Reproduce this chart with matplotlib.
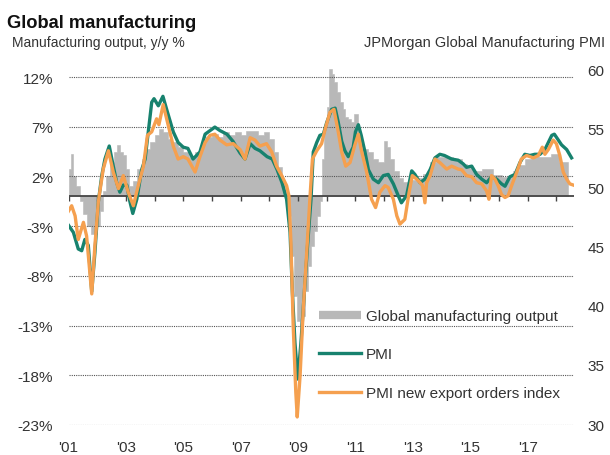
import numpy as np
import matplotlib.pyplot as plt
from matplotlib.lines import Line2D

plt.rcParams['font.family'] = ['Liberation Sans', 'DejaVu Sans']

# global manufacturing output, y/y % (stepped bars, edges in decimal years)
out_edges = [2001.0, 2001.08, 2001.17, 2001.25, 2001.4, 2001.5, 2001.65, 2001.8, 2002.0, 2002.1,
             2002.2, 2002.3, 2002.45, 2002.6, 2002.7, 2002.8, 2002.9, 2003.0, 2003.1, 2003.25,
             2003.4, 2003.55, 2003.7, 2003.85, 2004.0, 2004.15, 2004.3, 2004.45, 2004.6, 2004.8,
             2005.0, 2005.2, 2005.4, 2005.6, 2005.8, 2006.0, 2006.2, 2006.4, 2006.6, 2006.8,
             2007.0, 2007.2, 2007.4, 2007.6, 2007.8, 2008.0, 2008.15, 2008.3, 2008.45, 2008.55,
             2008.65, 2008.75, 2008.85, 2008.95, 2009.05, 2009.15, 2009.25, 2009.35, 2009.45, 2009.55,
             2009.65, 2009.75, 2009.83, 2009.92, 2010.0, 2010.08, 2010.17, 2010.25, 2010.35, 2010.45,
             2010.55, 2010.65, 2010.75, 2010.85, 2010.95, 2011.1, 2011.2, 2011.3, 2011.45, 2011.6,
             2011.8, 2012.0, 2012.1, 2012.2, 2012.35, 2012.5, 2012.65, 2012.85, 2013.1, 2013.35,
             2013.6, 2013.8, 2014.1, 2014.4, 2014.7, 2014.9, 2015.1, 2015.4, 2015.8, 2016.1,
             2016.5, 2016.7, 2016.9, 2017.1, 2017.4, 2017.8, 2018.1, 2018.4]
out_vals = [2.8, 4.3, 2.0, 1.0, -0.5, -1.8, -3.0, -3.8, -3.0,
            -1.5, 0.5, 2.0, 3.5, 4.5, 5.2, 4.5, 4.2, 2.8, 1.0,
            1.5, 2.8, 3.8, 4.8, 5.5, 6.2, 6.8, 6.5, 5.8, 5.5,
            5.0, 4.5, 4.0, 4.5, 5.5, 6.0, 6.3, 6.0, 6.5, 6.2,
            6.5, 6.2, 6.6, 6.6, 6.2, 6.5, 5.8, 4.5, 3.0, 1.5,
            0.5, -2.0, -6.0, -10.0, -12.5, -13.0, -12.0, -9.5, -7.0, -5.0,
            -3.5, -2.0, -0.5, 3.8, 7.0, 9.0, 12.8, 12.3, 11.5, 10.5,
            9.5, 8.8, 8.0, 7.8, 7.5, 8.3, 6.5, 5.2, 4.8, 4.5,
            3.8, 3.5, 5.6, 5.0, 3.8, 2.5, 1.8, 1.4, 1.6, 1.8,
            2.2, 3.5, 4.0, 4.0, 3.8, 3.3, 2.9, 2.5, 2.8, 2.1,
            1.9, 2.5, 3.2, 3.8, 4.1, 4.0, 4.3, 3.5]

# JPMorgan global manufacturing PMI
pmi_t = [2001.0, 2001.17, 2001.34, 2001.46, 2001.57, 2001.69, 2001.81, 2001.92, 2002.04, 2002.16,
         2002.27, 2002.42, 2002.56, 2002.68, 2002.79, 2002.91, 2003.03, 2003.14, 2003.24, 2003.38,
         2003.55, 2003.67, 2003.78, 2003.9, 2003.98, 2004.13, 2004.29, 2004.42, 2004.65, 2004.82,
         2005.0, 2005.16, 2005.34, 2005.58, 2005.76, 2005.93, 2006.1, 2006.28, 2006.52, 2006.73,
         2006.98, 2007.15, 2007.33, 2007.5, 2007.67, 2007.92, 2008.1, 2008.27, 2008.44, 2008.6,
         2008.72, 2008.8, 2008.89, 2008.99, 2009.1, 2009.22, 2009.33, 2009.45, 2009.53, 2009.65,
         2009.76, 2009.88, 2010.0, 2010.17, 2010.29, 2010.4, 2010.52, 2010.63, 2010.75, 2010.92,
         2011.0, 2011.1, 2011.2, 2011.33, 2011.45, 2011.62, 2011.8, 2011.97, 2012.14, 2012.32,
         2012.49, 2012.6, 2012.78, 2012.96, 2013.07, 2013.25, 2013.42, 2013.6, 2013.77, 2013.94,
         2014.1, 2014.35, 2014.58, 2014.75, 2014.87, 2015.05, 2015.22, 2015.4, 2015.57, 2015.74,
         2015.92, 2016.09, 2016.21, 2016.38, 2016.56, 2016.73, 2016.9, 2017.08, 2017.25, 2017.43,
         2017.6, 2017.72, 2017.84, 2017.93, 2018.07, 2018.18, 2018.36, 2018.53]
pmi_v = [46.8, 46.2, 44.8, 44.65, 45.6, 45.1, 41.2, 44.5, 48.8, 51.0,
         52.4, 53.5, 51.8, 50.4, 49.6, 50.2, 50.2, 48.8, 47.8, 49.0,
         51.5, 52.4, 54.7, 57.2, 57.5, 56.9, 57.7, 56.6, 54.7, 53.8,
         53.4, 53.3, 52.4, 53.0, 54.5, 54.8, 55.1, 54.8, 54.5, 53.9,
         52.9, 52.4, 53.7, 53.3, 53.1, 52.6, 52.4, 51.5, 50.4, 49.0,
         46.2, 41.2, 36.9, 33.8, 36.9, 41.2, 45.1, 49.0, 53.0, 53.8,
         54.4, 54.5, 55.5, 56.6, 56.7, 55.5, 53.9, 53.1, 52.6, 53.4,
         54.7, 55.3, 54.4, 53.0, 51.5, 50.7, 50.4, 51.0, 51.1, 50.3,
         49.3, 48.7, 49.3, 51.4, 51.1, 50.4, 50.7, 51.5, 52.5, 52.8,
         52.7, 52.4, 52.3, 52.0, 51.7, 51.8, 51.1, 50.7, 50.4, 50.9,
         50.7, 50.3, 50.1, 50.9, 51.1, 52.1, 52.8, 52.7, 52.8, 52.8,
         53.2, 53.8, 54.4, 54.5, 54.0, 53.6, 53.2, 52.5]

# PMI new export orders index
exp_t = [2001.0, 2001.11, 2001.23, 2001.34, 2001.52, 2001.63, 2001.81, 2001.92, 2002.04, 2002.21,
         2002.39, 2002.56, 2002.74, 2002.91, 2003.08, 2003.26, 2003.43, 2003.61, 2003.75, 2003.9,
         2004.07, 2004.15, 2004.3, 2004.45, 2004.65, 2004.82, 2005.0, 2005.16, 2005.41, 2005.58,
         2005.76, 2005.93, 2006.1, 2006.28, 2006.51, 2006.74, 2006.98, 2007.15, 2007.33, 2007.5,
         2007.67, 2007.9, 2008.08, 2008.25, 2008.43, 2008.6, 2008.68, 2008.75, 2008.83, 2008.92,
         2008.97, 2009.07, 2009.18, 2009.3, 2009.41, 2009.5, 2009.65, 2009.82, 2009.94, 2010.11,
         2010.25, 2010.4, 2010.52, 2010.66, 2010.81, 2010.98, 2011.1, 2011.2, 2011.39, 2011.56,
         2011.7, 2011.85, 2012.03, 2012.14, 2012.32, 2012.44, 2012.55, 2012.72, 2012.87, 2012.98,
         2013.13, 2013.25, 2013.34, 2013.42, 2013.48, 2013.6, 2013.77, 2013.94, 2014.18, 2014.35,
         2014.58, 2014.7, 2014.87, 2015.05, 2015.22, 2015.4, 2015.57, 2015.65, 2015.74, 2015.86,
         2015.97, 2016.09, 2016.21, 2016.32, 2016.44, 2016.62, 2016.78, 2016.96, 2017.2, 2017.37,
         2017.51, 2017.6, 2017.72, 2017.89, 2018.0, 2018.12, 2018.24, 2018.36, 2018.47, 2018.59]
exp_v = [48.0, 48.45, 47.6, 45.6, 47.05, 45.9, 41.0, 45.1, 48.8, 51.55,
         53.1, 51.3, 49.9, 51.0, 49.6, 48.45, 50.15, 51.8, 54.4, 54.7,
         55.8, 55.3, 57.0, 55.5, 53.5, 52.4, 52.6, 52.4, 51.3, 52.6,
         53.8, 54.4, 54.5, 54.0, 53.6, 53.7, 53.2, 52.4, 54.2, 54.0,
         53.5, 53.7, 53.0, 51.8, 51.0, 50.15, 49.3, 45.4, 38.3, 32.7,
         30.6, 34.1, 39.7, 44.5, 49.0, 52.4, 53.1, 53.7, 54.9, 56.35,
         56.6, 54.7, 53.0, 51.8, 52.1, 53.6, 54.5, 53.2, 51.3, 49.0,
         48.3, 49.6, 50.15, 50.0, 49.0, 47.6, 46.9, 47.3, 49.6, 51.0,
         50.7, 50.4, 50.15, 48.7, 50.4, 51.0, 52.4, 52.1, 51.55, 51.8,
         51.55, 51.5, 51.0, 50.9, 50.4, 50.3, 49.7, 49.0, 51.0, 50.7,
         50.15, 49.4, 49.15, 49.3, 50.15, 51.3, 52.4, 52.7, 52.5, 52.7,
         53.4, 52.8, 53.2, 54.0, 53.7, 52.7, 51.3, 50.7, 50.3, 50.2]

left_ticks = [12, 7, 2, -3, -8, -13, -18, -23]
right_ticks = [60, 55, 50, 45, 40, 35, 30]
year_ticks = [2001, 2003, 2005, 2007, 2009, 2011, 2013, 2015, 2017]
year_labels = ["'01", "'03", "'05", "'07", "'09", "'11", "'13", "'15", "'17"]

GRAY = '#b8b8b8'
TEAL = '#17826e'
ORANGE = '#f5a04f'
TXT = '#333333'

fig = plt.figure(figsize=(6.1, 4.56), dpi=100)
ax = fig.add_axes([0.1123, 0.0658, 0.828, 0.7807])
ax2 = ax.twinx()

# one stepped polygon for the output bars
ax.fill_between(out_edges, out_vals + out_vals[-1:], 0, step='post',
                facecolor=GRAY, edgecolor=GRAY, lw=0.4)
ax.set_xlim(2001.0, 2018.6)
ax.set_ylim(-23, 12.81)
ax.set_yticks(left_ticks)
ax.set_yticklabels([f'{t}%' for t in left_ticks])
ax.set_axisbelow(False)
ax.grid(axis='y', color='#555555', ls=(0, (1, 1)), lw=0.8)
ax.axhline(0, color='#444444', lw=1.3, zorder=3)
ax.vlines(np.arange(2001, 2019), -0.5, 0, color='#444444', lw=1.0, zorder=3)
ax.set_xticks(year_ticks)
ax.set_xticklabels(year_labels)

ax2.plot(pmi_t, pmi_v, color=TEAL, lw=2.4, solid_joinstyle='round')
ax2.plot(exp_t, exp_v, color=ORANGE, lw=2.4, solid_joinstyle='round')
ax2.set_ylim(29.92, 60.01)
ax2.set_yticks(right_ticks)

for a in (ax, ax2):
    for s in a.spines.values():
        s.set_visible(False)
ax.tick_params(axis='y', length=0, pad=11, labelsize=11, labelcolor=TXT)
ax.tick_params(axis='x', length=0, pad=11, labelsize=11, labelcolor=TXT)
ax2.tick_params(axis='y', length=0, pad=10, labelsize=11, labelcolor=TXT)

handles = [Line2D([], [], color=GRAY, lw=6, solid_capstyle='butt'),
           Line2D([], [], color=TEAL, lw=2.4),
           Line2D([], [], color=ORANGE, lw=2.4)]
labels = ['Global manufacturing output', 'PMI', 'PMI new export orders index']
ax2.legend(handles, labels, loc='upper left', bbox_to_anchor=(319 / 610, 1 - 310 / 456),
           bbox_transform=fig.transFigure, frameon=False, fontsize=11,
           handlelength=2.75, handletextpad=0.3, labelspacing=1.6, borderpad=0,
           borderaxespad=0, labelcolor=TXT)

fig.text(7 / 610, 1 - 28 / 456, 'Global manufacturing', fontsize=13.2, weight='bold',
         color='#111111', va='baseline')
fig.text(12 / 610, 1 - 47 / 456, 'Manufacturing output, y/y %', fontsize=10,
         color=TXT, va='baseline')
fig.text(605 / 610, 1 - 47 / 456, 'JPMorgan Global Manufacturing PMI', fontsize=10.5,
         color=TXT, va='baseline', ha='right')

fig.savefig('out.png', dpi=100)
